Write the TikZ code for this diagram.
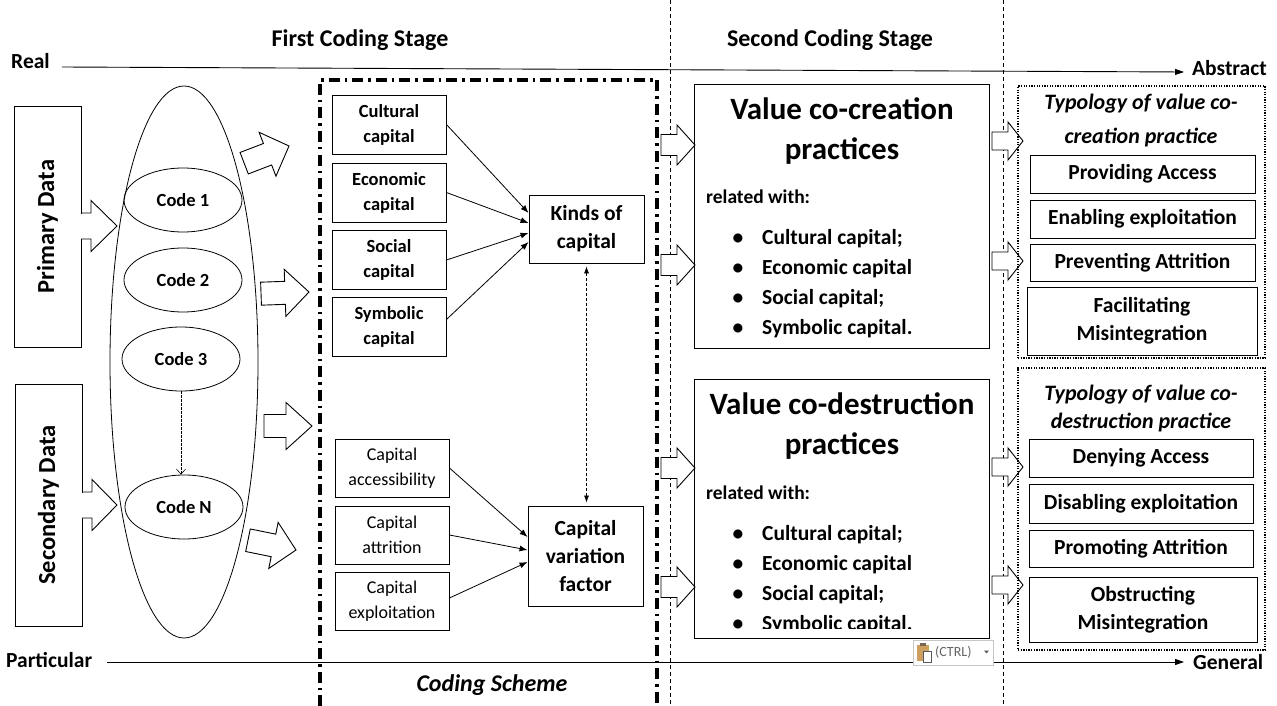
\documentclass[tikz,border=0pt]{standalone}
\usepackage{fontspec}
\setmainfont{Carlito}
\usetikzlibrary{shapes.geometric,arrows.meta,calc}
\newcommand{\fs}[2]{\fontsize{#1}{#2}\selectfont}
% tip x, tip y, angle, length, shaft half, head half, head length
\newcommand{\blockarr}[7]{%
  \draw[blockarrow, shift={(#1,#2)}, rotate=#3] (0,0) -- (-#7,-#6) -- (-#7,-#5) -- (-#4,-#5) -- (-#4,#5) -- (-#7,#5) -- (-#7,#6) -- cycle;}
\begin{document}
\begin{tikzpicture}[x=1pt,y=-1pt,
  every node/.style={inner sep=0pt, text=black},
  box/.style={draw, line width=0.9pt, align=center, font=\bfseries},
  dotbox/.style={draw, line width=1.3pt, dash pattern=on 1.3pt off 1.3pt},
  codeell/.style={draw, ellipse, line width=0.8pt, minimum width=118pt, minimum height=64pt, font=\bfseries\fs{18.5}{22}},
  axis/.style={line width=0.9pt, -{Triangle[length=9pt,width=6pt]}},
  vsep/.style={line width=0.6pt, dash pattern=on 4pt off 3pt},
  schemeline/.style={line width=3.4pt, dash pattern=on 11pt off 5pt on 2.5pt off 5pt},
  blockarrow/.style={draw, fill=white, line width=0.9pt, line join=miter},
  feed/.style={line width=0.8pt, -{Latex[length=8pt,width=6pt]}},
  smallbox/.style={box, minimum width=114pt, minimum height=59pt, font=\bfseries\fs{18.5}{25}},
  lowbox/.style={box, minimum width=114pt, minimum height=58pt, font=\fs{18}{25}},
  typbox/.style={box, font=\bfseries\fs{21.5}{28}},
  bigtitle/.style={align=center, font=\bfseries\fs{31}{40}},
  bul/.style={anchor=base, font=\bfseries\fs{21.5}{26}},
  bultxt/.style={anchor=base west, font=\bfseries\fs{21.5}{26}},
]
\useasboundingbox (0,0) rectangle (1277,706);

% vertical separators
\coordinate (s1t) at (670,0); \coordinate (s1b) at (670,706);
\coordinate (s2t) at (1003,0); \coordinate (s2b) at (1003,706);
\draw[vsep] (s1t) -- (s1b);
\draw[vsep] (s2t) -- (s2b);

% headers
\node[font=\bfseries\fs{24}{28}] (h1) at (360,40) {First Coding Stage};
\node[font=\bfseries\fs{24}{28}] (h2) at (830,40) {Second Coding Stage};

% axes
\node[anchor=base west, font=\bfseries\fs{21.5}{26}] (real) at (11,68.5) {Real};
\node[anchor=base west, font=\bfseries\fs{21.5}{26}] (abstract) at (1192,76) {Abstract};
\coordinate (ra) at (62,67); \coordinate (rb) at (1184,72);
\draw[axis] (ra) -- (rb);
\node[anchor=base west, font=\bfseries\fs{21.5}{26}] (particular) at (6,667) {Particular};
\node[anchor=base west, font=\bfseries\fs{21.5}{26}] (general) at (1193,669) {General};
\coordinate (pa) at (107,662); \coordinate (pb) at (1184,662);
\draw[axis] (pa) -- (pb);

% coding scheme frame
\coordinate (c1) at (320,706); \coordinate (c2) at (320,80);
\coordinate (c3) at (657,80); \coordinate (c4) at (657,706);
\draw[schemeline] (c1) -- (c2) -- (c3) -- (c4);
\node[font=\bfseries\itshape\fs{24}{28}] (scheme) at (492,685) {Coding Scheme};

% data boxes
\node[box, minimum width=67pt, minimum height=241pt] (prim) at (47.5,226.5) {};
\node[rotate=90, font=\bfseries\fs{24.5}{28}] (primt) at (47.5,226.5) {Primary Data};
\node[box, minimum width=67pt, minimum height=242pt] (sec) at (48.5,505) {};
\node[rotate=90, font=\bfseries\fs{24.5}{28}] (sect) at (48.5,505) {Secondary Data};
% arrows from data boxes
\fill[white] (80,213.5) rectangle (92,238.5);
\draw[line width=0.9pt, line join=miter] (81,213) -- (91,213) -- (91,200.5) -- (117,226) -- (91,251.5) -- (91,239) -- (81,239);
\fill[white] (81,492.5) rectangle (92,517.5);
\draw[line width=0.9pt, line join=miter] (82,492) -- (92,492) -- (92,479.5) -- (117,505) -- (92,530.5) -- (92,518) -- (82,518);

% big ellipse and codes
\node[draw, ellipse, line width=0.8pt, minimum width=148pt, minimum height=552pt] (bigell) at (184,362) {};
\node[codeell] (code1) at (183,200) {Code 1};
\node[codeell] (code2) at (183,280) {Code 2};
\node[codeell] (code3) at (181,359) {Code 3};
\node[codeell] (codeN) at (184,507) {Code N};
\draw[line width=0.6pt, dash pattern=on 2.5pt off 1.5pt, -{Straight Barb[length=5pt,width=9pt]}] (code3.south) -- (code3.south |- codeN.north);

% block arrows ellipse -> scheme
\blockarr{289}{146}{21}{48}{11.5}{23.5}{23}
\blockarr{309}{292}{2}{48}{11.5}{23.5}{24}
\blockarr{312}{426}{0}{48}{11.5}{23.5}{26}
\blockarr{296}{550}{-11.5}{49}{11.5}{23.5}{23}

% kinds of capital
\node[smallbox] (cult) at (389,124.5) {Cultural\\capital};
\node[smallbox] (econ) at (389,192.5) {Economic\\capital};
\node[smallbox] (soc) at (389,260) {Social\\capital};
\node[smallbox] (symb) at (389,326.5) {Symbolic\\capital};
\node[box, minimum width=115pt, minimum height=68pt, font=\bfseries\fs{21.5}{28}] (kinds) at (586.5,229) {Kinds of\\capital};
\draw[feed] (cult.east) -- ($(kinds.west)+(0,-16)$);
\draw[feed] (econ.east) -- ($(kinds.west)+(0,-6)$);
\draw[feed] (soc.east) -- ($(kinds.west)+(0,4)$);
\draw[feed] ($(symb.east)+(0,-7)$) -- ($(kinds.west)+(0,13)$);

% capital variation
\node[lowbox] (acc) at (392,468) {Capital\\accessibility};
\node[lowbox] (att) at (392,535) {Capital\\attrition};
\node[lowbox] (expl) at (392,601) {Capital\\exploitation};
\node[box, minimum width=115pt, minimum height=100pt, font=\bfseries\fs{21.5}{28}] (cvf) at (585.5,556) {Capital\\variation\\factor};
\draw[feed] (acc.east) -- ($(cvf.west)+(0,-19)$);
\draw[feed] (att.east) -- ($(cvf.west)+(0,-6)$);
\draw[feed] ($(expl.east)+(0,-3)$) -- ($(cvf.west)+(0,6)$);
\draw[line width=0.6pt, dash pattern=on 3pt off 2pt, {Latex[length=7pt,width=5pt]}-{Latex[length=7pt,width=5pt]}, shorten <=3pt, shorten >=3pt] (kinds.south) -- (kinds.south |- cvf.north);

% arrows into value boxes
\blockarr{695}{145}{0}{34}{10.5}{20}{18}
\blockarr{695}{265}{0}{34}{10.5}{20}{18}
\blockarr{695}{468}{0}{34}{10.5}{20}{18}
\blockarr{695}{587}{0}{34}{10.5}{20}{18}

% value co-creation
\node[box, minimum width=295pt, minimum height=264pt] (vcc) at (841.5,216) {};
\node[bigtitle] (vcct) at (842,131) {Value co-creation\\practices};
\node[anchor=base west, font=\bfseries\fs{19.5}{24}] (vccr) at (706,203.5) {related with:};
\node[bul] (b1) at (738,244) {\textbullet};
\node[bultxt] (t1) at (762,244) {Cultural capital;};
\node[bul] (b2) at (738,274) {\textbullet};
\node[bultxt] (t2) at (762,274) {Economic capital};
\node[bul] (b3) at (738,304) {\textbullet};
\node[bultxt] (t3) at (762,304) {Social capital;};
\node[bul] (b4) at (738,334) {\textbullet};
\node[bultxt] (t4) at (762,334) {Symbolic capital.};

% value co-destruction
\node[box, minimum width=295pt, minimum height=259pt] (vcd) at (841.5,508.5) {};
\node[bigtitle] (vcdt) at (842,426) {Value co-destruction\\practices};
\node[anchor=base west, font=\bfseries\fs{19.5}{24}] (vcdr) at (706,499.5) {related with:};
\node[bul] (d1) at (738,540) {\textbullet};
\node[bultxt] (u1) at (762,540) {Cultural capital;};
\node[bul] (d2) at (738,570) {\textbullet};
\node[bultxt] (u2) at (762,570) {Economic capital};
\node[bul] (d3) at (738,600) {\textbullet};
\node[bultxt] (u3) at (762,600) {Social capital;};
\begin{scope}
\clip (700,605) rectangle (985,628.5);
\node[bul] (d4) at (738,630) {\textbullet};
\node[bultxt] (u4) at (762,630) {Symbolic capital.};
\end{scope}

% arrows to typology
\blockarr{1023}{141}{0}{31}{9}{19}{15}
\blockarr{1023}{261}{0}{31}{9}{19}{15}
\blockarr{1023}{467}{0}{31}{9}{19}{15}
\blockarr{1023}{585}{0}{31}{9}{19}{15}

% typology co-creation
\node[dotbox, minimum width=247pt, minimum height=272pt] (typ1) at (1141.5,222) {};
\node[anchor=base, font=\bfseries\itshape\fs{22}{26}] (typ1a) at (1141,110) {Typology of value co-};
\node[anchor=base, font=\bfseries\itshape\fs{22}{26}] (typ1b) at (1141,143) {creation practice};
\node[typbox, minimum width=225pt, minimum height=38pt] (pa1) at (1142.5,174) {Providing Access};
\node[typbox, minimum width=225pt, minimum height=38pt] (pa2) at (1142.5,219) {Enabling exploitation};
\node[typbox, minimum width=225pt, minimum height=37pt] (pa3) at (1142.5,263) {Preventing Attrition};
\node[typbox, minimum width=230pt, minimum height=68pt] (pa4) at (1142,321) {Facilitating\\Misintegration};

% typology co-destruction
\node[dotbox, minimum width=247pt, minimum height=282pt] (typ2) at (1141.5,509) {};
\node[anchor=base, font=\bfseries\itshape\fs{22}{26}] (typ2a) at (1141,400) {Typology of value co-};
\node[anchor=base, font=\bfseries\itshape\fs{22}{26}] (typ2b) at (1141,428) {destruction practice};
\node[typbox, minimum width=224pt, minimum height=38pt] (pd1) at (1141,458) {Denying Access};
\node[typbox, minimum width=224pt, minimum height=39pt] (pd2) at (1141,503.5) {Disabling exploitation};
\node[typbox, minimum width=224pt, minimum height=37pt] (pd3) at (1141,548.5) {Promoting Attrition};
\node[typbox, minimum width=228pt, minimum height=65pt] (pd4) at (1143,609.5) {Obstructing\\Misintegration};

% paste-options popup
\node[draw=gray!45, fill=white, line width=0.7pt, minimum width=80pt, minimum height=25pt] (ctrl) at (953,652.5) {};
\fill[fill={rgb,255:red,205;green,160;blue,95}] (917,645) rectangle (929,661);
\fill[fill={rgb,255:red,120;green,100;blue,80}] (920,643) rectangle (926,646);
\draw[fill=white, draw=gray!70!black, line width=0.5pt] (923,651) rectangle (931,662);
\node[anchor=west, text=gray!80!black, font=\fs{14}{16}] (ctrlt) at (935,652) {(CTRL)};
\fill[gray!70!black] (984,650.5) -- (989,650.5) -- (986.5,653.5) -- cycle;
\end{tikzpicture}
\end{document}
